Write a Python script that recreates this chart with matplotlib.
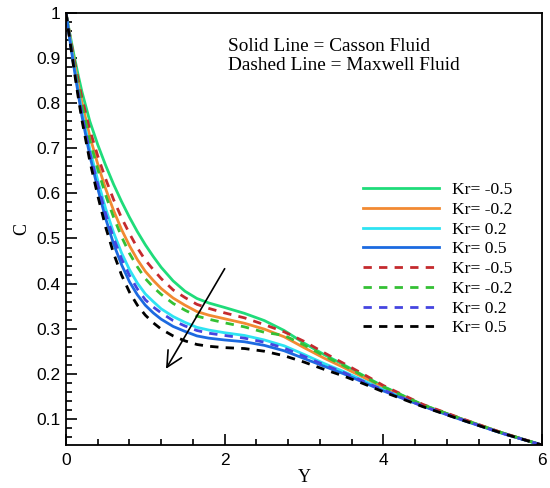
import matplotlib
matplotlib.use('Agg')
import matplotlib.pyplot as plt
from matplotlib.ticker import MultipleLocator

# concentration profiles C(Y)
y_pts = [0, 0.05, 0.1, 0.15, 0.2, 0.3, 0.4, 0.5, 0.6, 0.7, 0.8, 0.9, 1.0, 1.1, 1.2,
         1.35, 1.5, 1.65, 1.8, 2.0, 2.25, 2.5, 2.75, 3.0, 3.25, 3.5, 3.75, 4.0,
         4.5, 5.0, 5.5, 6.0]

casson_m05 = [1.000, 0.952, 0.907, 0.865, 0.826, 0.760, 0.708, 0.662, 0.620, 0.582,
              0.547, 0.515, 0.486, 0.460, 0.436, 0.406, 0.383, 0.367, 0.357, 0.347,
              0.334, 0.318, 0.296, 0.268, 0.243, 0.220, 0.196, 0.172, 0.131, 0.099,
              0.069, 0.042]
casson_m02 = [1.000, 0.946, 0.895, 0.847, 0.802, 0.727, 0.665, 0.610, 0.562, 0.520,
              0.484, 0.453, 0.427, 0.407, 0.389, 0.368, 0.352, 0.338, 0.330, 0.322,
              0.312, 0.299, 0.282, 0.258, 0.235, 0.214, 0.192, 0.169, 0.130, 0.099,
              0.069, 0.042]
casson_p02 = [1.000, 0.942, 0.885, 0.832, 0.782, 0.698, 0.629, 0.566, 0.513, 0.468,
              0.431, 0.401, 0.377, 0.360, 0.344, 0.327, 0.314, 0.303, 0.297, 0.291,
              0.285, 0.275, 0.262, 0.243, 0.223, 0.205, 0.185, 0.165, 0.129, 0.098,
              0.068, 0.042]
casson_p05 = [1.000, 0.939, 0.880, 0.825, 0.772, 0.684, 0.611, 0.544, 0.488, 0.442,
              0.404, 0.375, 0.352, 0.335, 0.321, 0.305, 0.294, 0.284, 0.279, 0.275,
              0.271, 0.263, 0.251, 0.234, 0.217, 0.200, 0.181, 0.162, 0.128, 0.097,
              0.068, 0.042]

maxwell_m05 = [1.000, 0.949, 0.900, 0.855, 0.812, 0.741, 0.683, 0.632, 0.586, 0.546,
               0.511, 0.479, 0.452, 0.431, 0.411, 0.386, 0.369, 0.354, 0.345, 0.335,
               0.324, 0.309, 0.293, 0.272, 0.247, 0.223, 0.199, 0.174, 0.132, 0.100,
               0.069, 0.042]
maxwell_m02 = [1.000, 0.945, 0.892, 0.842, 0.796, 0.718, 0.654, 0.596, 0.547, 0.504,
               0.467, 0.437, 0.411, 0.392, 0.376, 0.356, 0.341, 0.328, 0.321, 0.313,
               0.304, 0.292, 0.285, 0.264, 0.240, 0.218, 0.195, 0.171, 0.131, 0.099,
               0.069, 0.042]
maxwell_p02 = [1.000, 0.940, 0.883, 0.828, 0.777, 0.691, 0.620, 0.555, 0.501, 0.455,
               0.418, 0.388, 0.364, 0.348, 0.335, 0.318, 0.306, 0.296, 0.290, 0.285,
               0.279, 0.270, 0.257, 0.239, 0.220, 0.203, 0.183, 0.164, 0.128, 0.098,
               0.068, 0.042]
maxwell_p05 = [1.000, 0.937, 0.876, 0.818, 0.763, 0.672, 0.595, 0.525, 0.467, 0.419,
               0.381, 0.352, 0.330, 0.313, 0.299, 0.284, 0.273, 0.265, 0.261, 0.258,
               0.256, 0.250, 0.240, 0.226, 0.210, 0.195, 0.178, 0.160, 0.127, 0.097,
               0.068, 0.042]

kr_labels = ['Kr= -0.5', 'Kr= -0.2', 'Kr= 0.2', 'Kr= 0.5']
casson = [casson_m05, casson_m02, casson_p02, casson_p05]
maxwell = [maxwell_m05, maxwell_m02, maxwell_p02, maxwell_p05]
casson_colors = ['#1fdc7a', '#f28a32', '#2ee3f2', '#1c6ae0']
maxwell_colors = ['#c42a2e', '#34c034', '#4545e0', '#000000']

# arrow showing increasing Kr
arrow_tail = (2.0, 0.433)
arrow_head = (1.26, 0.211)

fig = plt.figure(figsize=(5.5, 4.88), dpi=100)
ax = fig.add_axes([0.12, 0.088, 0.8655, 0.8854])

for vals, col, lab in zip(casson, casson_colors, kr_labels):
    ax.plot(y_pts, vals, color=col, lw=2.0, label=lab)
for vals, col, lab in zip(maxwell, maxwell_colors, kr_labels):
    ax.plot(y_pts, vals, color=col, lw=2.0, ls=(0, (3, 2.6)), label=lab)

ax.annotate('', xy=arrow_head, xytext=arrow_tail,
            arrowprops=dict(arrowstyle='->', lw=1.2, color='black',
                            mutation_scale=28, shrinkA=0, shrinkB=0))

ax.set_xlim(0, 6)
ax.set_ylim(0.042, 1.0)

ax.set_xticks([0, 2, 4, 6])
ax.set_xticklabels(['0', '2', '4', '6'])
yt = [0.1, 0.2, 0.3, 0.4, 0.5, 0.6, 0.7, 0.8, 0.9, 1.0]
ax.set_yticks(yt)
ax.set_yticklabels(['0.1', '0.2', '0.3', '0.4', '0.5', '0.6', '0.7', '0.8', '0.9', '1'])
ax.xaxis.set_minor_locator(MultipleLocator(0.4))
ax.yaxis.set_minor_locator(MultipleLocator(0.02))

ax.tick_params(which='both', direction='in', top=False, right=False,
               labelsize=12.5, width=1.2)
ax.tick_params(which='major', length=8)
ax.tick_params(which='minor', length=4.5)
ax.tick_params(axis='x', pad=6)
ax.tick_params(axis='y', pad=4)
for lbl in ax.get_xticklabels() + ax.get_yticklabels():
    lbl.set_fontfamily('Liberation Sans')
for sp in ax.spines.values():
    sp.set_linewidth(1.3)

ax.set_xlabel('Y', fontfamily='Liberation Serif', fontsize=13, va='top')
ax.xaxis.set_label_coords(0.5, -0.055)
ax.set_ylabel('C', fontfamily='Liberation Serif', fontsize=13)
ax.yaxis.set_label_coords(-0.076, 0.5)

ax.text(0.34, 0.912, 'Solid Line = Casson Fluid', transform=ax.transAxes,
        fontfamily='Liberation Serif', fontsize=13.9, va='baseline')
ax.text(0.34, 0.868, 'Dashed Line = Maxwell Fluid', transform=ax.transAxes,
        fontfamily='Liberation Serif', fontsize=13.9, va='baseline')

ax.legend(loc='upper left', bbox_to_anchor=(0.624, 0.609), frameon=False,
          prop={'family': 'Liberation Serif', 'size': 12.6},
          handlelength=4.34, handletextpad=0.74, labelspacing=0.2,
          borderpad=0, borderaxespad=0)

fig.savefig('out.png', dpi=100)
